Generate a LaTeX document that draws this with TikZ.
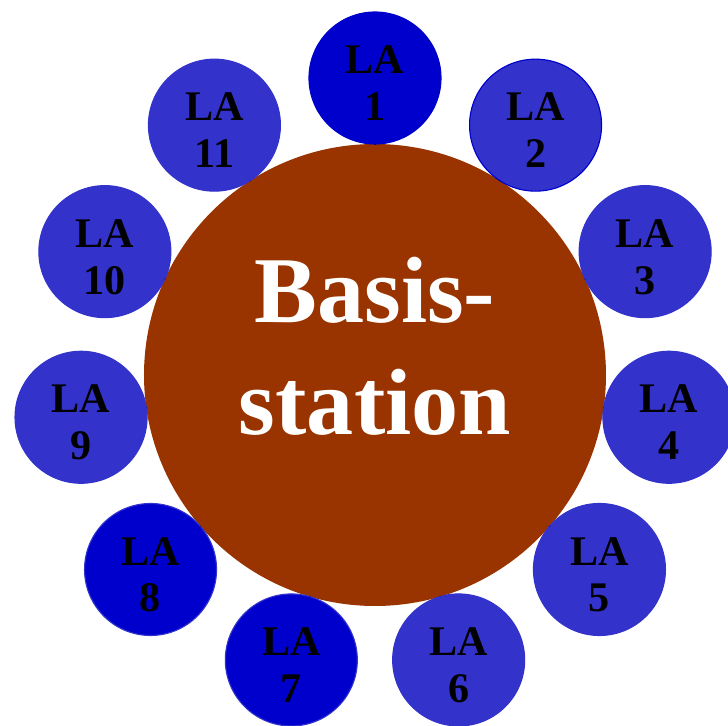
\documentclass[tikz,border=0pt]{standalone}
\usepackage{fontspec}
\setmainfont{Liberation Serif}
\usetikzlibrary{positioning}
\definecolor{StationBrown}{HTML}{993300}
\definecolor{AreaBlue}{HTML}{3333CC}
\definecolor{AreaDark}{HTML}{0000CC}
\tikzset{
  % Basisstation in der Mitte
  station/.style={circle,fill=StationBrown,minimum size=11.55cm,inner sep=0,
    text=white,align=center,text height=4.6cm,text depth=1.6cm,
    font=\fontsize{67}{80}\selectfont\bfseries},
  % Location Areas ringsum
  area/.style={circle,minimum size=3.3cm,inner sep=0,line width=0.8pt,
    text=black,align=center,text height=2.325cm,text depth=0.2cm,
    font=\fontsize{30}{33.4}\selectfont\bfseries},
  connect/.style={thin,black}
}

\begin{document}
\begin{tikzpicture}
    \useasboundingbox (-9.375,-8.775) rectangle (8.825,9.375);
    \node[station] (bs) at (0,0) {Basis-\\station};
    \foreach \i/\c/\d in {1/AreaDark/AreaDark,2/AreaBlue/AreaDark,3/AreaBlue/AreaBlue,
        4/AreaBlue/AreaBlue,5/AreaBlue/AreaBlue,6/AreaBlue/AreaBlue,7/AreaDark/AreaBlue,
        8/AreaDark/AreaBlue,9/AreaBlue/AreaBlue,10/AreaBlue/AreaBlue,11/AreaBlue/AreaBlue}
      \node[area,fill=\c,draw=\d] (la\i) at ({90-(\i-1)*360/11}:7.425) {LA\\\i};
    \foreach \i in {1,...,11}
      \draw[connect] (la\i) -- (bs);
  \end{tikzpicture}
\end{document}
